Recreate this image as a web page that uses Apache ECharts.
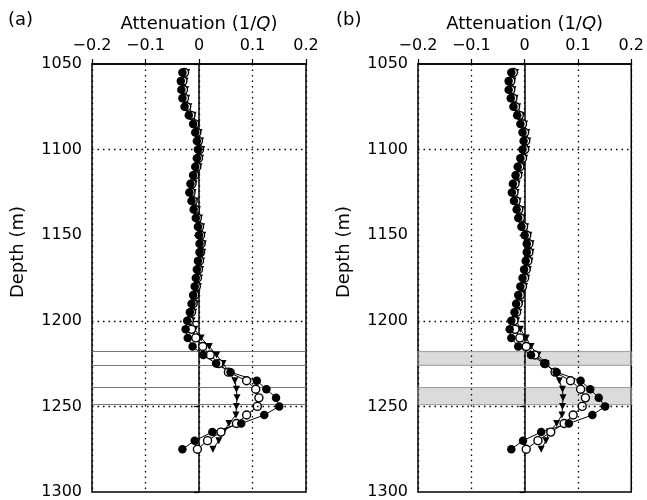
<!DOCTYPE html>
<html>
<head>
<meta charset="utf-8">
<script src="https://cdn.jsdelivr.net/npm/echarts@6/dist/echarts.min.js"></script>
<style>
  html, body { margin: 0; padding: 0; background: #fff; }
  #chart { width: 647px; height: 500px; }
</style>
</head>
<body>
<div id="chart"></div>
<script>
// depth of each sample (m)
var depths = [1055,1060,1065,1070,1075,1080,1085,1090,1095,1100,
  1105,1110,1115,1120,1125,1130,1135,1140,1145,1150,
  1155,1160,1165,1170,1175,1180,1185,1190,1195,1200,
  1205,1210,1215,1220,1225,1230,1235,1240,1245,1250,
  1255,1260,1265,1270,1275];

// panel (a) attenuation 1/Q
var filledA = [-0.031,-0.034,-0.033,-0.031,-0.027,-0.019,-0.011,-0.007,-0.004,-0.002,
  -0.004,-0.007,-0.011,-0.016,-0.018,-0.014,-0.010,-0.006,-0.002,0.000,
  0.001,0.001,-0.002,-0.004,-0.006,-0.008,-0.011,-0.014,-0.017,-0.022,
  -0.025,-0.021,-0.012,0.008,0.032,0.059,0.108,0.126,0.144,0.150,
  0.122,0.079,0.025,-0.008,-0.031];
var openA = [-0.027,-0.030,-0.029,-0.027,-0.023,-0.015,-0.008,-0.004,-0.001,0.001,
  -0.001,-0.004,-0.008,-0.013,-0.015,-0.011,-0.007,-0.003,0.001,0.003,
  0.004,0.003,0.001,-0.001,-0.003,-0.005,-0.008,-0.011,-0.014,-0.018,
  -0.014,-0.006,0.007,0.021,0.037,0.055,0.089,0.106,0.112,0.109,
  0.089,0.070,0.041,0.016,-0.003];
var starA = [-0.023,-0.026,-0.025,-0.023,-0.019,-0.011,-0.004,0.000,0.003,0.005,
  0.003,0.000,-0.004,-0.009,-0.011,-0.007,-0.003,0.001,0.005,0.007,
  0.008,0.007,0.005,0.003,0.001,-0.001,-0.004,-0.007,-0.010,-0.013,
  -0.008,0.004,0.019,0.033,0.045,0.056,0.067,0.070,0.071,0.070,
  0.069,0.056,0.046,0.037,0.026];

// panel (b) attenuation 1/Q
var filledB = [-0.025,-0.030,-0.030,-0.026,-0.021,-0.014,-0.008,-0.004,-0.002,-0.004,
  -0.008,-0.013,-0.017,-0.022,-0.024,-0.020,-0.015,-0.012,-0.006,0.000,
  0.004,0.004,0.002,-0.001,-0.004,-0.008,-0.012,-0.016,-0.019,-0.025,
  -0.028,-0.025,-0.012,0.012,0.037,0.060,0.105,0.123,0.139,0.151,
  0.127,0.083,0.031,-0.003,-0.025];
var openB = [-0.021,-0.026,-0.026,-0.022,-0.017,-0.010,-0.004,0.000,0.002,0.000,
  -0.004,-0.009,-0.013,-0.018,-0.020,-0.016,-0.011,-0.008,-0.002,0.004,
  0.008,0.008,0.006,0.003,0.000,-0.004,-0.008,-0.012,-0.015,-0.020,
  -0.018,-0.009,0.003,0.019,0.038,0.057,0.086,0.105,0.114,0.108,
  0.091,0.074,0.049,0.025,0.003];
var starB = [-0.017,-0.022,-0.022,-0.018,-0.013,-0.006,0.000,0.004,0.006,0.004,
  0.000,-0.005,-0.009,-0.014,-0.016,-0.012,-0.007,-0.004,0.002,0.008,
  0.012,0.012,0.010,0.007,0.004,0.000,-0.004,-0.008,-0.011,-0.015,
  -0.008,0.003,0.012,0.025,0.040,0.056,0.065,0.071,0.072,0.071,
  0.070,0.060,0.046,0.040,0.031];

var gridDepths = [1100, 1200, 1250];
var bandDepths = [[1218, 1226], [1239, 1249]];

window.onload = function(){
  var chart = echarts.init(document.getElementById('chart'));
  var font = 'DejaVu Sans';

  function pairs(xs){
    var out = [];
    for(var i=0;i<xs.length;i++) out.push([xs[i], depths[i]]);
    return out;
  }

  function xAxisFor(idx){
    return {
      type:'value', gridIndex:idx, position:'top',
      min:-0.2, max:0.2, interval:0.1,
      name:'Attenuation (1/{i|Q})', nameLocation:'middle', nameGap:31,
      nameTextStyle:{ fontFamily:font, fontSize:18, color:'#000',
        rich:{ i:{ fontFamily:font, fontSize:18, fontStyle:'italic', color:'#000' } } },
      axisLine:{ lineStyle:{ color:'#000', width:1.5 } },
      axisTick:{ length:5, lineStyle:{ color:'#000', width:1.2 } },
      axisLabel:{ margin:10, fontFamily:font, fontSize:16, color:'#000',
        formatter:function(v){
          var r = Math.round(v*10)/10;
          return r === 0 ? '0' : String(r).replace('-', '\u2212');
        } },
      splitLine:{ show:true, lineStyle:{ color:'#000', width:1.3, type:[1.5,4] } }
    };
  }

  function yAxisFor(idx){
    return {
      type:'value', gridIndex:idx, inverse:true,
      min:1050, max:1300, interval:50,
      axisLine:{ lineStyle:{ color:'#000', width:1.5 } },
      axisTick:{ length:5, lineStyle:{ color:'#000', width:1.2 } },
      axisLabel:{ margin:10, fontFamily:font, fontSize:16, color:'#000',
        formatter:function(v){ return String(v); } },
      splitLine:{ show:false }
    };
  }

  var hLines = gridDepths.map(function(d){ return { yAxis:d }; });

  function seriesFor(idx, filled, open, star, extra){
    var base = { type:'line', xAxisIndex:idx, yAxisIndex:idx, animation:false,
      lineStyle:{ color:'#000', width:1 } };
    var s1 = Object.assign({}, base, {
      data:pairs(star), symbol:'path://M0,0 L10,0 L5,9 Z', symbolSize:7,
      itemStyle:{ color:'#000' },
      markLine:{ silent:true, symbol:'none', label:{show:false},
        lineStyle:{ color:'#000', width:1.3, type:[1.5,4] }, data:hLines }
    });
    var s2 = Object.assign({}, base, {
      data:pairs(open), symbol:'circle', symbolSize:8,
      itemStyle:{ color:'#fff', borderColor:'#000', borderWidth:1.4 }
    });
    var s3 = Object.assign({}, base, {
      data:pairs(filled), symbol:'circle', symbolSize:8.5,
      itemStyle:{ color:'#000' }
    });
    Object.assign(s2, extra);
    return [s1, s2, s3];
  }

  // panel (a): thin grey lines at band edges
  var bandLinesA = [];
  bandDepths.forEach(function(b){
    bandLinesA.push({ yAxis:b[0] });
    bandLinesA.push({ yAxis:b[1] });
  });

  var extraA = {
    markLine:{ silent:true, symbol:'none', label:{show:false}, z:1,
      lineStyle:{ color:'#777', width:1, type:'solid' }, data:bandLinesA }
  };
  var extraB = {
    markArea:{ silent:true,
      itemStyle:{ color:'rgba(0,0,0,0.14)', borderColor:'#999', borderWidth:1 },
      data:bandDepths.map(function(b){ return [{ yAxis:b[0] }, { yAxis:b[1] }]; }) }
  };

  var opt = {
    backgroundColor:'#fff',
    title:[
      { text:'(a)', left:3, top:6, textStyle:{ fontFamily:font, fontSize:18, fontWeight:'normal', color:'#000' } },
      { text:'(b)', left:331, top:6, textStyle:{ fontFamily:font, fontSize:18, fontWeight:'normal', color:'#000' } }
    ],
    grid:[
      { left:92, top:64, width:214, height:430, show:true, borderColor:'#000', borderWidth:1.5, backgroundColor:'transparent' },
      { left:418, top:64, width:215, height:430, show:true, borderColor:'#000', borderWidth:1.5, backgroundColor:'transparent' }
    ],
    xAxis:[ xAxisFor(0), xAxisFor(1) ],
    yAxis:[ yAxisFor(0), yAxisFor(1) ],
    graphic:[
      { type:'text', x:18, y:252, rotation:Math.PI/2,
        style:{ text:'Depth (m)', font:'18px "DejaVu Sans"', fill:'#000', align:'center', verticalAlign:'middle' } },
      { type:'text', x:344, y:252, rotation:Math.PI/2,
        style:{ text:'Depth (m)', font:'18px "DejaVu Sans"', fill:'#000', align:'center', verticalAlign:'middle' } }
    ],
    series:[].concat(
      seriesFor(0, filledA, openA, starA, extraA),
      seriesFor(1, filledB, openB, starB, extraB)
    )
  };

  chart.setOption(opt);
};
</script>
</body>
</html>
